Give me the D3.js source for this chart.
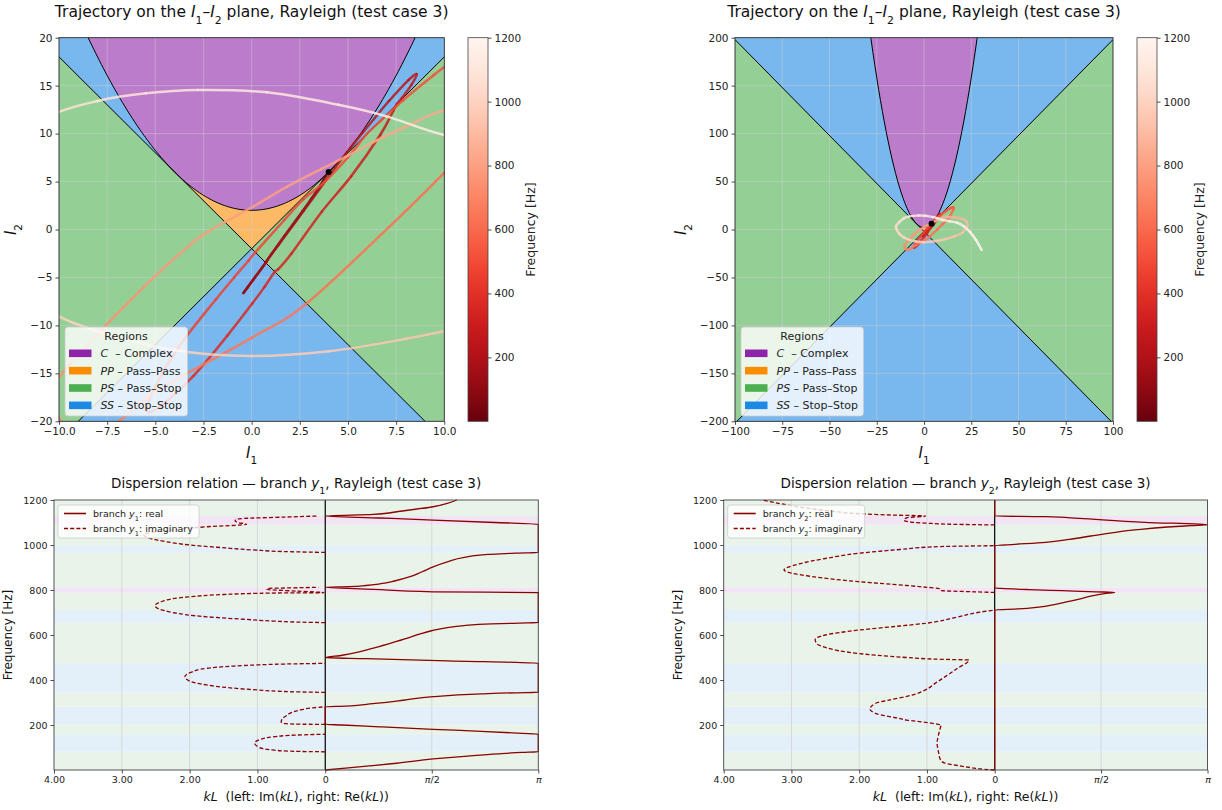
<!DOCTYPE html>
<html>
<head>
<meta charset="utf-8">
<script src="https://cdn.jsdelivr.net/npm/d3@7/dist/d3.min.js"></script>
<style>
  body { margin: 0; background: #fff; }
  svg text { font-family: "DejaVu Sans", sans-serif; }
</style>
</head>
<body>
<div id="container"></div>
<script>
var PI = Math.PI;

// trajectory on the I1-I2 plane, one point per frequency [Hz]
var trajFreq = [0, 10, 20, 30, 40, 49, 62, 72, 81, 90, 100, 119, 135, 148, 155, 159, 163, 172, 181, 192,
  200, 203, 206, 212, 218, 225, 240, 255, 268, 276, 281, 284, 295, 310, 326, 338, 343, 345, 350, 356,
  365, 378, 395, 415, 435, 452, 462, 467, 471, 474, 485, 489, 492, 495, 499, 505, 510, 518, 530, 545,
  560, 580, 600, 615, 625, 638, 648, 662, 672, 690, 700, 711, 726, 745, 763, 780, 788, 795, 800, 806,
  812, 820, 830, 840, 850, 860, 875, 889, 905, 918, 930, 942, 950, 960, 972, 985, 997, 1007, 1020, 1035,
  1047, 1060, 1070, 1080, 1090, 1100, 1110, 1120, 1129, 1140, 1150, 1160, 1170, 1180, 1190, 1200];
var trajI1 = [4.00, 3.98, 3.81, 3.55, 3.12, 2.64, 1.68, 1.05, 0.73, 0.08, -0.25, -0.43, -0.22, 0.18, 0.55, 0.76, 0.82, 1.42, 2.70, 4.10,
  4.60, 4.69, 5.14, 5.78, 6.54, 7.13, 8.15, 8.57, 8.30, 7.80, 7.54, 7.36, 6.68, 5.16, 3.64, 2.06, 1.38, 1.20, 0.67, 0.03,
  -1.26, -3.02, -4.79, -5.45, -4.85, -3.61, -1.85, -0.90, -0.16, 0.19, 1.71, 2.68, 3.75, 4.99, 5.94, 6.68, 7.87, 9.46, 11.83, 13.90,
  15.35, 15.59, 13.08, 10.00, 7.10, 2.80, 0.00, -5.00, -6.90, -8.40, -9.30, -10.00, -10.30, -8.50, -5.60, -3.20, -2.07, 0.00, 1.84, 3.60,
  5.00, 6.50, 8.30, 10.00, 12.80, 15.70, 19.80, 22.30, 23.00, 20.50, 16.00, 11.50, 8.00, 4.00, 0.00, -4.00, -8.00, -10.50, -13.00, -14.60,
  -14.80, -13.00, -10.50, -8.00, -5.50, -2.80, 0.80, 4.50, 7.00, 10.00, 13.50, 17.50, 21.00, 24.50, 27.50, 30.50];
var trajI2 = [6.00, 5.94, 5.47, 4.55, 3.26, 1.90, -0.72, -2.50, -3.46, -5.25, -6.15, -6.62, -6.05, -4.95, -3.95, -3.40, -3.15, -1.55, 1.95, 5.80,
  7.16, 7.38, 8.54, 10.14, 11.99, 13.40, 15.60, 16.20, 15.10, 13.70, 13.08, 12.41, 9.88, 5.54, 1.86, -2.52, -4.14, -4.40, -5.98, -7.72,
  -11.07, -15.26, -18.50, -18.80, -15.80, -11.76, -7.27, -4.98, -3.24, -2.38, 1.02, 3.15, 4.89, 7.51, 9.88, 11.30, 13.49, 16.11, 19.68, 22.10,
  23.15, 21.22, 12.00, 5.90, 0.20, -7.80, -11.30, -16.90, -20.00, -21.00, -20.70, -19.60, -16.50, -12.00, -6.00, -1.60, 0.00, 2.30, 4.47, 6.30,
  7.70, 9.30, 11.00, 12.40, 13.00, 12.85, 11.20, 8.80, 3.50, -3.00, -7.20, -9.90, -11.40, -12.70, -13.20, -12.60, -10.60, -8.50, -4.50, 0.50,
  3.50, 8.00, 11.80, 13.40, 14.20, 14.55, 14.30, 13.00, 11.80, 9.85, 8.60, 7.00, 3.50, -3.00, -11.00, -21.40];

// frequency bands and their region
var bandLo = [0, 81, 159, 203, 281, 345, 474, 655, 711, 788, 812, 967, 997, 1090, 1129];
var bandHi = [81, 159, 203, 281, 345, 474, 655, 711, 788, 812, 967, 997, 1090, 1129, 1200];
var bandType = ["PS", "SS", "PS", "SS", "PS", "SS", "PS", "SS", "PS", "C", "PS", "SS", "PS", "C", "PS"];

// branch y1: [frequency, Re(kL)] and stop-band loops [frequency, Im(kL)]
var y1Real = [[0, 0], [8, 0.3], [18, 0.65], [30, 1.05], [49, 1.59], [62, 2.1], [72, 2.55], [78, 2.9], [81, PI],
  [159, PI], [163, 2.9], [172, 2.3], [181, 1.59], [192, 0.8], [200, 0.25], [203, 0],
  [281, 0], [284, 0.3], [295, 0.7], [310, 1.15], [326, 1.59], [338, 2.3], [343, 2.8], [345, PI],
  [474, PI], [485, 1.8], [495, 0.6], [499, 0], [510, 0.25], [525, 0.5], [545, 0.75], [565, 0.98], [585, 1.2],
  [605, 1.4], [620, 1.58], [632, 1.78], [642, 2.05], [649, 2.45], [653, 2.85], [655, PI],
  [788, PI], [792, 1.59], [803, 0.71], [812, 0], [815, 0.35], [820, 0.6], [828, 0.82], [840, 1.02], [859, 1.25],
  [880, 1.42], [904, 1.6], [925, 1.8], [945, 2.05], [958, 2.4], [964, 2.8], [967, PI],
  [1092, PI], [1100, 2.5], [1111, 1.59], [1120, 0.8], [1129, 0],
  [1136, 0.71], [1150, 1.1], [1170, 1.59], [1185, 1.8], [1200, 1.94]];
var y1Imag = [
  [[81, 0], [83, 0.45], [88, 0.75], [100, 0.97], [119, 1.04], [135, 0.97], [148, 0.75], [155, 0.45], [159, 0]],
  [[203, 0], [203.5, 0.37], [206, 0.58], [212, 0.65], [225, 0.64], [240, 0.58], [255, 0.5], [268, 0.35], [276, 0.2], [281, 0]],
  [[345, 0], [347, 0.4], [350, 0.7], [356, 1.01], [365, 1.4], [378, 1.75], [395, 2.0], [415, 2.07], [435, 1.97],
   [452, 1.75], [462, 1.35], [467, 1.01], [471, 0.6], [474, 0]],
  [[655, 0], [657, 0.35], [662, 0.77], [670, 1.2], [681, 1.75], [700, 2.25], [730, 2.51], [750, 2.4], [770, 2.0],
   [780, 1.5], [785, 1.01], [787, 0.6], [788, 0.02], [795, 0.42], [803, 0.86], [807, 0.86], [810, 0.4], [812, 0.1]],
  [[967, 0], [970, 0.5], [978, 1.06], [990, 1.6], [1000, 2.0], [1015, 2.35], [1030, 2.59], [1047, 2.68], [1067, 2.24],
   [1081, 1.75], [1092, 1.16], [1100, 1.29], [1108, 1.33], [1115, 1.3], [1118, 1.2], [1124, 0.6], [1129, 0.1]]
];

// branch y2
var y2Real = [[0, 0], [711, 0], [716, 0.35], [724, 0.65], [735, 0.88], [748, 1.08], [762, 1.28], [775, 1.45],
  [784, 1.62], [789, 1.77], [792, 1.5], [797, 1.0], [802, 0.5], [807, 0.1], [809, 0], [997, 0], [1003, 0.3],
  [1012, 0.75], [1025, 1.1], [1040, 1.42], [1055, 1.75], [1068, 2.1], [1080, 2.55], [1086, 2.9], [1090, PI],
  [1101, 2.22], [1118, 1.24], [1126, 0.75], [1129, 0], [1200, 0]];
var y2Imag = [
  [[0, 0], [3, 0.15], [10, 0.34], [20, 0.55], [30, 0.73], [45, 0.8], [81, 0.83], [120, 0.85], [155, 0.83], [190, 0.8],
   [200, 0.79], [204, 0.85], [212, 1.02], [222, 1.3], [230, 1.42], [245, 1.68], [252, 1.76], [271, 1.84], [296, 1.76],
   [311, 1.56], [333, 1.22], [356, 1.02], [385, 0.88], [415, 0.73], [450, 0.56], [489, 0.38], [492, 0.8], [500, 1.3],
   [510, 1.75], [518, 2.01], [530, 2.3], [545, 2.5], [560, 2.62], [580, 2.65], [600, 2.5], [622, 2.0], [640, 1.4],
   [652, 1.02], [680, 0.55], [700, 0.25], [711, 0]],
  [[789, 0], [792, 0.3], [797, 0.78], [807, 0.83], [812, 1.0], [820, 1.3], [837, 2.01], [860, 2.7], [889, 3.11],
   [915, 2.9], [940, 2.5], [963, 2.01], [980, 1.4], [993, 0.8], [997, 0]],
  [[1089, 0], [1092, 0.6], [1097, 1.0], [1101, 1.22], [1111, 1.34], [1121, 1.3], [1129, 1.02], [1133, 1.5],
   [1138, 1.93], [1150, 2.4], [1165, 2.8], [1180, 3.1], [1200, 3.43]]
];

var regionKeys = ["C", "PP", "PS", "SS"];
var regionNames = ["Complex", "Pass\u2013Pass", "Pass\u2013Stop", "Stop\u2013Stop"];
var cbTicks = [200, 400, 600, 800, 1000, 1200];

var regionFill = { C: "#bb7ccc", PP: "#fcba66", PS: "#94cf96", SS: "#78b8ef" };
var regionSolid = { C: "#8e24aa", PP: "#fb8c00", PS: "#4caf50", SS: "#1e88e5" };
var bandFill = { C: "#f2e4f4", PS: "#e8f3e9", SS: "#e3eff9" };
var lineRed = "#8b0000";

var svg = d3.select("#container").append("svg")
  .attr("width", 1222).attr("height", 810);

function rich(t, parts) {
  parts.forEach(function (p) {
    var s = t.append("tspan").text(p.t);
    if (p.i) s.style("font-style", "italic");
    if (p.sub) s.attr("baseline-shift", "sub").style("font-size", "70%");
  });
  return t;
}

function freqColor(f) { return d3.interpolateReds(1 - f / 1200); }

function styleAxis(ax, size) {
  ax.select(".domain").remove();
  ax.selectAll("line").attr("stroke", "#222").attr("stroke-width", 0.8);
  ax.selectAll("text").style("font-size", size).attr("fill", "#222");
}

function planePanel(o) {
  var b = o.box;
  var x = d3.scaleLinear().domain(o.xDom).range([b.x, b.x + b.w]);
  var y = d3.scaleLinear().domain(o.yDom).range([b.y + b.h, b.y]);
  var x0 = o.xDom[0], x1 = o.xDom[1];
  svg.append("clipPath").attr("id", o.id).append("rect")
    .attr("x", b.x).attr("y", b.y).attr("width", b.w).attr("height", b.h);
  var p = svg.append("g").attr("clip-path", "url(#" + o.id + ")");

  p.append("rect").attr("x", b.x).attr("y", b.y).attr("width", b.w).attr("height", b.h)
    .attr("fill", regionFill.PS);
  p.append("path").datum([x0, 0, x1])
    .attr("d", d3.area().x(function (d) { return x(d); })
      .y0(b.y + b.h + 5).y1(function (d) { return y(-2 * Math.abs(d) - 2); }))
    .attr("fill", regionFill.SS);

  var samp = function (a, c) { return d3.range(201).map(function (i) { return a + (c - a) * i / 200; }); };
  var upper = d3.area().x(function (d) { return x(d); })
    .y0(function (d) { return y(2 * Math.abs(d) - 2); })
    .y1(function (d) { return y(d * d / 4 + 2); });
  p.append("path").datum(samp(x0, -4)).attr("d", upper).attr("fill", regionFill.SS);
  p.append("path").datum(samp(4, x1)).attr("d", upper).attr("fill", regionFill.SS);
  p.append("path").datum(samp(-4, 4)).attr("d", upper).attr("fill", regionFill.PP);
  p.append("path").datum(samp(x0, x1))
    .attr("d", d3.area().x(function (d) { return x(d); })
      .y0(function (d) { return y(d * d / 4 + 2); }).y1(b.y - 5))
    .attr("fill", regionFill.C);

  // grid
  o.xTicks.forEach(function (t) {
    p.append("line").attr("x1", x(t)).attr("x2", x(t)).attr("y1", b.y).attr("y2", b.y + b.h)
      .attr("stroke", "#d0d0d0").attr("stroke-opacity", 0.55).attr("stroke-width", 0.8);
  });
  o.yTicks.forEach(function (t) {
    p.append("line").attr("y1", y(t)).attr("y2", y(t)).attr("x1", b.x).attr("x2", b.x + b.w)
      .attr("stroke", "#d0d0d0").attr("stroke-opacity", 0.55).attr("stroke-width", 0.8);
  });

  // boundaries
  [2, -2].forEach(function (s) {
    p.append("line").attr("x1", x(x0)).attr("y1", y(s * x0 - 2)).attr("x2", x(x1)).attr("y2", y(s * x1 - 2))
      .attr("stroke", "#000").attr("stroke-width", 1);
  });
  p.append("path").datum(samp(x0, x1))
    .attr("d", d3.line().x(function (d) { return x(d); }).y(function (d) { return y(d * d / 4 + 2); }))
    .attr("fill", "none").attr("stroke", "#000").attr("stroke-width", 1);

  // trajectory coloured by frequency
  var pts = trajFreq.map(function (f, i) { return [x(trajI1[i]), y(trajI2[i]), f]; });
  for (var i = 0; i < pts.length - 1; i++) {
    var a = pts[Math.max(i - 1, 0)], q1 = pts[i], q2 = pts[i + 1], c = pts[Math.min(i + 2, pts.length - 1)];
    var c1 = [q1[0] + (q2[0] - a[0]) / 6, q1[1] + (q2[1] - a[1]) / 6];
    var c2 = [q2[0] - (c[0] - q1[0]) / 6, q2[1] - (c[1] - q1[1]) / 6];
    p.append("path")
      .attr("d", "M" + q1[0] + "," + q1[1] + "C" + c1[0] + "," + c1[1] + " " + c2[0] + "," + c2[1] + " " + q2[0] + "," + q2[1])
      .attr("fill", "none").attr("stroke", freqColor((q1[2] + q2[2]) / 2))
      .attr("stroke-width", 2.5).attr("stroke-linecap", "round").attr("stroke-opacity", 0.85);
  }
  p.append("circle").attr("cx", x(trajI1[0])).attr("cy", y(trajI2[0])).attr("r", 3).attr("fill", "#000");

  svg.append("rect").attr("x", b.x).attr("y", b.y).attr("width", b.w).attr("height", b.h)
    .attr("fill", "none").attr("stroke", "#222").attr("stroke-width", 0.9);

  var ax = svg.append("g").attr("transform", "translate(0," + (b.y + b.h) + ")")
    .call(d3.axisBottom(x).tickValues(o.xTicks).tickFormat(o.xFmt).tickSize(3.5).tickPadding(3));
  styleAxis(ax, "10.5px");
  var ay = svg.append("g").attr("transform", "translate(" + b.x + ",0)")
    .call(d3.axisLeft(y).tickValues(o.yTicks).tickFormat(d3.format("d")).tickSize(3.5).tickPadding(3));
  styleAxis(ay, "10.5px");

  rich(svg.append("text").attr("x", b.x + b.w / 2).attr("y", 17).attr("text-anchor", "middle")
    .style("font-size", "15.5px").attr("fill", "#111"),
    [{ t: "Trajectory on the " }, { t: "I", i: 1 }, { t: "1", sub: 1 }, { t: "\u2013" }, { t: "I", i: 1 }, { t: "2", sub: 1 },
     { t: " plane, Rayleigh (test case 3)" }]);
  rich(svg.append("text").attr("x", b.x + b.w / 2).attr("y", 458).attr("text-anchor", "middle")
    .style("font-size", "15px").attr("fill", "#111"), [{ t: "I", i: 1 }, { t: "1", sub: 1 }]);
  rich(svg.append("text").attr("transform", "translate(" + (b.x - o.yLabOff) + "," + (b.y + b.h / 2) + ") rotate(-90)")
    .attr("text-anchor", "middle").style("font-size", "15px").attr("fill", "#111"), [{ t: "I", i: 1 }, { t: "2", sub: 1 }]);

  // legend
  var lg = svg.append("g").attr("transform", "translate(" + (b.x + 6) + "," + 327 + ")");
  lg.append("rect").attr("width", 122.5).attr("height", 89).attr("rx", 3)
    .attr("fill", "#fff").attr("fill-opacity", 0.8).attr("stroke", "#ccc").attr("stroke-width", 0.8);
  lg.append("text").attr("x", 61).attr("y", 13).attr("text-anchor", "middle")
    .style("font-size", "11px").attr("fill", "#222").text("Regions");
  regionKeys.forEach(function (k, i) {
    var yy = 26.3 + i * 17.35;
    lg.append("rect").attr("x", 4).attr("y", yy - 3.8).attr("width", 22.5).attr("height", 7.6)
      .attr("fill", regionSolid[k]);
    rich(lg.append("text").attr("x", 35.5).attr("y", yy + 4).style("font-size", "11px").attr("fill", "#222"),
      [{ t: k, i: 1 }, { t: (k.length === 1 ? "\u00a0\u00a0" : " ") + "\u2013 " + regionNames[i] }]);
  });

  // colorbar
  var gid = o.id + "grad";
  var grad = svg.append("defs").append("linearGradient").attr("id", gid)
    .attr("x1", 0).attr("y1", 1).attr("x2", 0).attr("y2", 0);
  d3.range(0, 1.0001, 0.05).forEach(function (t) {
    grad.append("stop").attr("offset", t).attr("stop-color", freqColor(t * 1200));
  });
  var cy = d3.scaleLinear().domain([0, 1200]).range([b.y + b.h, b.y]);
  svg.append("rect").attr("x", o.cbX).attr("y", b.y).attr("width", 20).attr("height", b.h)
    .attr("fill", "url(#" + gid + ")").attr("stroke", "#444").attr("stroke-width", 0.8);
  var ac = svg.append("g").attr("transform", "translate(" + (o.cbX + 20) + ",0)")
    .call(d3.axisRight(cy).tickValues(cbTicks).tickFormat(d3.format("d")).tickSize(3.5).tickPadding(3));
  styleAxis(ac, "10.5px");
  svg.append("text").attr("transform", "translate(" + o.cbLabelX + "," + (b.y + b.h / 2) + ") rotate(-90)")
    .attr("text-anchor", "middle").style("font-size", "12.5px").attr("fill", "#222").text("Frequency [Hz]");
}

function dispPanel(o) {
  var b = o.box;
  var x = d3.scaleLinear().domain([-4, PI]).range([b.x, b.x + b.w]);
  var y = d3.scaleLinear().domain([0, 1200]).range([b.y + b.h, b.y]);
  var g = svg.append("g");

  bandLo.forEach(function (lo, i) {
    g.append("rect").attr("x", b.x).attr("width", b.w)
      .attr("y", y(bandHi[i])).attr("height", y(lo) - y(bandHi[i]))
      .attr("fill", bandFill[bandType[i]]);
  });
  [-3, -2, -1, PI / 2].forEach(function (t) {
    g.append("line").attr("x1", x(t)).attr("x2", x(t)).attr("y1", b.y).attr("y2", b.y + b.h)
      .attr("stroke", "#cfd4d0").attr("stroke-width", 0.8);
  });
  g.append("line").attr("x1", x(0)).attr("x2", x(0)).attr("y1", b.y).attr("y2", b.y + b.h)
    .attr("stroke", "#000").attr("stroke-width", 1.2);

  var re = d3.line().x(function (d) { return x(d[1]); }).y(function (d) { return y(d[0]); })
    .curve(d3.curveMonotoneY);
  var im = d3.line().x(function (d) { return x(-d[1]); }).y(function (d) { return y(d[0]); })
    .curve(d3.curveMonotoneY);
  o.imag.forEach(function (seg) {
    g.append("path").datum(seg).attr("d", im).attr("fill", "none").attr("stroke", lineRed)
      .attr("stroke-width", 1.3).attr("stroke-dasharray", "4,2.2");
  });
  g.append("path").datum(o.real).attr("d", re).attr("fill", "none").attr("stroke", lineRed)
    .attr("stroke-width", 1.3);

  svg.append("rect").attr("x", b.x).attr("y", b.y).attr("width", b.w).attr("height", b.h)
    .attr("fill", "none").attr("stroke", "#444").attr("stroke-width", 0.9);

  var xt = [-4, -3, -2, -1, 0, PI / 2, PI];
  var ax = svg.append("g").attr("transform", "translate(0," + (b.y + b.h) + ")")
    .call(d3.axisBottom(x).tickValues(xt).tickSize(3.5).tickPadding(3));
  styleAxis(ax, "9.5px");
  ax.selectAll("text").each(function (d, i) {
    var t = d3.select(this).text("");
    if (i < 4) t.text((-d).toFixed(2));
    else if (i === 4) t.text("0");
    else if (i === 5) rich(t, [{ t: "\u03c0", i: 1 }, { t: "/2" }]);
    else rich(t, [{ t: "\u03c0", i: 1 }]);
  });
  var ay = svg.append("g").attr("transform", "translate(" + b.x + ",0)")
    .call(d3.axisLeft(y).tickValues([200, 400, 600, 800, 1000, 1200]).tickFormat(d3.format("d"))
      .tickSize(3.5).tickPadding(3));
  styleAxis(ay, "9.5px");

  rich(svg.append("text").attr("x", b.x + b.w / 2).attr("y", 488).attr("text-anchor", "middle")
    .style("font-size", "13.5px").attr("fill", "#111"),
    [{ t: "Dispersion relation \u2014 branch " }, { t: "y", i: 1 }, { t: o.sub, sub: 1 }, { t: ", Rayleigh (test case 3)" }]);
  rich(svg.append("text").attr("x", b.x + b.w / 2).attr("y", 801).attr("text-anchor", "middle")
    .style("font-size", "12.5px").attr("fill", "#111"),
    [{ t: "kL", i: 1 }, { t: "\u00a0 (left: Im(" }, { t: "kL", i: 1 }, { t: "), right: Re(" }, { t: "kL", i: 1 }, { t: "))" }]);
  svg.append("text").attr("transform", "translate(" + (b.x - 42) + "," + (b.y + b.h / 2) + ") rotate(-90)")
    .attr("text-anchor", "middle").style("font-size", "12px").attr("fill", "#111").text("Frequency [Hz]");

  var lg = svg.append("g").attr("transform", "translate(" + (b.x + 4) + "," + 505 + ")");
  lg.append("rect").attr("width", o.legendW).attr("height", 33).attr("rx", 2.5)
    .attr("fill", "#fff").attr("fill-opacity", 0.8).attr("stroke", "#ccc").attr("stroke-width", 0.8);
  [["real", null], ["imaginary", "4,2.2"]].forEach(function (e, i) {
    var yy = 8.5 + i * 15;
    lg.append("line").attr("x1", 6).attr("x2", 28).attr("y1", yy).attr("y2", yy)
      .attr("stroke", lineRed).attr("stroke-width", 1.6).attr("stroke-dasharray", e[1]);
    rich(lg.append("text").attr("x", 35).attr("y", yy + 3.4).style("font-size", "9.5px").attr("fill", "#222"),
      [{ t: "branch " }, { t: "y", i: 1 }, { t: o.sub, sub: 1 }, { t: ": " + e[0] }]);
  });
}

planePanel({
  id: "clipA", box: { x: 59, y: 37.7, w: 385.3, h: 383.6 },
  xDom: [-10, 10], yDom: [-20, 20],
  xTicks: [-10, -7.5, -5, -2.5, 0, 2.5, 5, 7.5, 10], yTicks: [-20, -15, -10, -5, 0, 5, 10, 15, 20],
  xFmt: d3.format(".1f"), cbX: 468, cbLabelX: 535, yLabOff: 43
});
planePanel({
  id: "clipB", box: { x: 735, y: 37.7, w: 378, h: 383.6 },
  xDom: [-100, 100], yDom: [-200, 200],
  xTicks: [-100, -75, -50, -25, 0, 25, 50, 75, 100], yTicks: [-200, -150, -100, -50, 0, 50, 100, 150, 200],
  xFmt: d3.format("d"), cbX: 1137, cbLabelX: 1204, yLabOff: 49
});
dispPanel({ box: { x: 54, y: 500, w: 484.3, h: 270 }, real: y1Real, imag: y1Imag, sub: "1", legendW: 141 });
dispPanel({ box: { x: 723.7, y: 500, w: 483.8, h: 270 }, real: y2Real, imag: y2Imag, sub: "2", legendW: 137 });
</script>
</body>
</html>
